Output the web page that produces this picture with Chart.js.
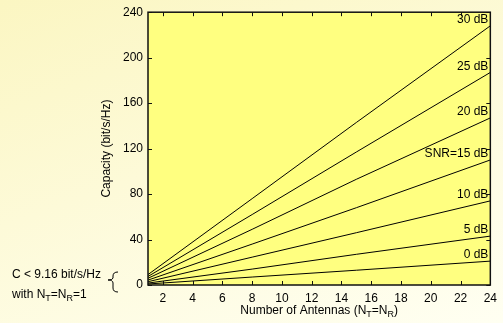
<!DOCTYPE html>
<html>
<head>
<meta charset="utf-8">
<script src="https://cdn.jsdelivr.net/npm/chart.js@4/dist/chart.umd.min.js"></script>
<style>
  html, body { margin: 0; padding: 0; }
  body {
    width: 503px; height: 323px; overflow: hidden;
    background: linear-gradient(160deg, #fbf6c2 0%, #fdfad8 45%, #fffff2 100%);
  }
  #wrap { position: relative; width: 503px; height: 323px; }
</style>
</head>
<body>
<div id="wrap"><canvas id="myChart" width="503" height="323"></canvas></div>
<script>
// number of antennas (N_T = N_R) where values were read
const antennas = [1, 8, 15, 24];

// capacity in bit/s/Hz per SNR curve
const snr0  = [0.9, 7, 13, 21];
const snr5  = [1.7, 14, 27, 43];
const snr10 = [2.9, 24.5, 46, 74];
const snr15 = [4.3, 36, 68, 110];
const snr20 = [5.9, 49, 93, 147];
const snr25 = [7.5, 62, 117, 187];
const snr30 = [9.16, 76, 143, 228];

const curveLabels = ['0 dB', '5 dB', '10 dB', 'SNR=15 dB', '20 dB', '25 dB', '30 dB'];
const curves = [snr0, snr5, snr10, snr15, snr20, snr25, snr30];

const xTicks = [2, 4, 6, 8, 10, 12, 14, 16, 18, 20, 22, 24];
const yTicks = [0, 40, 80, 120, 160, 200, 240];

const FONT = '"Liberation Sans", Arial, Helvetica, sans-serif';

// text with subscript pieces, returns new x
function drawRich(ctx, parts, x, y, size) {
  parts.forEach(p => {
    if (p.sub) {
      ctx.font = (size - 3) + 'px ' + FONT;
      ctx.fillText(p.t, x, y + 4);
    } else {
      ctx.font = size + 'px ' + FONT;
      ctx.fillText(p.t, x, y);
    }
    x += ctx.measureText(p.t).width;
  });
  return x;
}
function richWidth(ctx, parts, size) {
  let w = 0;
  parts.forEach(p => {
    ctx.font = (p.sub ? size - 3 : size) + 'px ' + FONT;
    w += ctx.measureText(p.t).width;
  });
  return w;
}

const decor = {
  id: 'decor',
  beforeDraw(chart) {
    const { ctx, chartArea: a } = chart;
    ctx.save();
    ctx.fillStyle = '#ffff80';
    ctx.fillRect(a.left, a.top, a.right - a.left, a.bottom - a.top);
    ctx.restore();
  },
  afterDatasetsDraw(chart) {
    const { ctx, chartArea: a } = chart;
    const ys = chart.scales.y;
    ctx.save();
    ctx.fillStyle = '#000';
    ctx.font = '12px ' + FONT;
    ctx.textAlign = 'right';
    ctx.textBaseline = 'middle';
    curves.forEach((c, i) => {
      const py = ys.getPixelForValue(c[c.length - 1]) - 6;
      ctx.fillText(curveLabels[i], a.right - 2, py);
    });
    ctx.restore();
  },
  afterDraw(chart) {
    const { ctx, chartArea: a } = chart;
    const xs = chart.scales.x, ys = chart.scales.y;
    ctx.save();
    // box
    ctx.strokeStyle = '#111';
    ctx.lineWidth = 1.5;
    ctx.strokeRect(a.left, a.top, a.right - a.left, a.bottom - a.top);
    // inward ticks
    ctx.lineWidth = 1;
    ctx.beginPath();
    xTicks.forEach(v => {
      const px = Math.round(xs.getPixelForValue(v)) + 0.5;
      ctx.moveTo(px, a.bottom); ctx.lineTo(px, a.bottom - 4);
      ctx.moveTo(px, a.top); ctx.lineTo(px, a.top + 4);
    });
    yTicks.forEach(v => {
      const py = Math.round(ys.getPixelForValue(v)) + 0.5;
      ctx.moveTo(a.left, py); ctx.lineTo(a.left + 4, py);
      ctx.moveTo(a.right, py); ctx.lineTo(a.right - 4, py);
    });
    ctx.stroke();

    ctx.fillStyle = '#000';
    ctx.textBaseline = 'middle';
    ctx.textAlign = 'left';

    // x title
    const xt = [{ t: 'Number of Antennas (N' }, { t: 'T', sub: true }, { t: '=N' }, { t: 'R', sub: true }, { t: ')' }];
    const w = richWidth(ctx, xt, 12);
    drawRich(ctx, xt, (a.left + a.right) / 2 - w / 2, 311, 12);

    // y title
    ctx.save();
    ctx.translate(107, (a.top + a.bottom) / 2);
    ctx.rotate(-Math.PI / 2);
    ctx.textAlign = 'center';
    ctx.font = '12px ' + FONT;
    ctx.fillText('Capacity (bit/s/Hz)', 0, 0);
    ctx.restore();

    // note for single antenna
    ctx.font = '12px ' + FONT;
    ctx.fillText('C < 9.16 bit/s/Hz', 12, 275);
    drawRich(ctx, [{ t: 'with N' }, { t: 'T', sub: true }, { t: '=N' }, { t: 'R', sub: true }, { t: '=1' }], 12, 295, 12);

    // brace
    ctx.strokeStyle = '#000';
    ctx.lineWidth = 1;
    ctx.beginPath();
    ctx.moveTo(118, 272);
    ctx.quadraticCurveTo(113, 272, 113, 276);
    ctx.lineTo(113, 278);
    ctx.quadraticCurveTo(113, 280, 108, 280);
    ctx.quadraticCurveTo(113, 280, 113, 283);
    ctx.lineTo(113, 288);
    ctx.quadraticCurveTo(113, 292, 118, 292);
    ctx.stroke();
    ctx.restore();
  }
};

const ctx = document.getElementById('myChart').getContext('2d');
const myChart = new Chart(ctx, {
  type: 'line',
  data: {
    datasets: curves.map((c, i) => ({
      label: curveLabels[i],
      data: antennas.map((n, j) => ({ x: n, y: c[j] })),
      borderColor: '#000',
      borderWidth: 1,
      pointRadius: 0,
      tension: 0,
      fill: false
    }))
  },
  options: {
    responsive: false,
    animation: false,
    layout: { padding: { top: 11, right: 7, left: 0, bottom: 0 } },
    plugins: { legend: { display: false }, tooltip: { enabled: false } },
    scales: {
      x: {
        type: 'linear',
        min: 1, max: 24,
        grid: { display: false, drawTicks: false, tickLength: 0 },
        border: { display: false },
        afterBuildTicks: s => { s.ticks = xTicks.map(v => ({ value: v })); },
        afterFit: s => { s.height = 38; },
        ticks: { color: '#000', padding: 6, maxRotation: 0, autoSkip: false, font: { family: FONT, size: 12 } }
      },
      y: {
        type: 'linear',
        min: 0, max: 240,
        grid: { display: false, drawTicks: false, tickLength: 0 },
        border: { display: false },
        afterBuildTicks: s => { s.ticks = yTicks.map(v => ({ value: v })); },
        afterFit: s => { s.width = 148; },
        ticks: { color: '#000', padding: 5, font: { family: FONT, size: 12 } }
      }
    }
  },
  plugins: [decor]
});
</script>
</body>
</html>
